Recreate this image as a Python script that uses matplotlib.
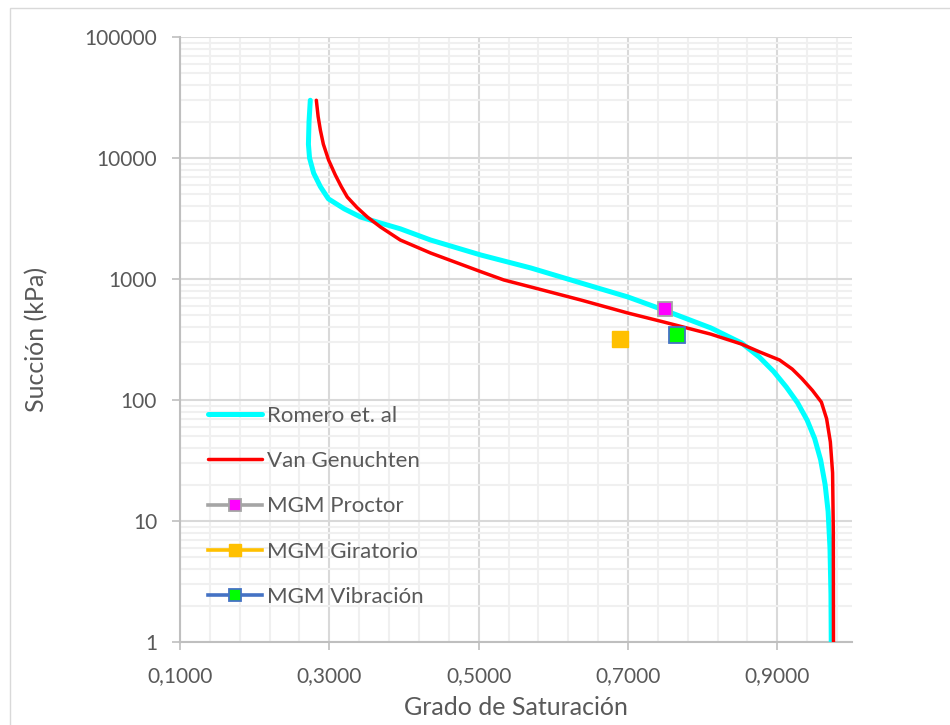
import matplotlib
matplotlib.use("Agg")
import matplotlib.pyplot as plt
from matplotlib.patches import Rectangle
from matplotlib.ticker import FixedLocator, FuncFormatter, LogLocator, NullFormatter

plt.rcParams['font.family'] = ['Lato', 'DejaVu Sans']

# Soil-water retention curves: degree of saturation vs suction (kPa)
romero_s = [0.2745, 0.2728, 0.2720, 0.2735, 0.2790, 0.2880, 0.2987, 0.3200, 0.3420,
            0.3685, 0.3950, 0.4356, 0.5027, 0.5700, 0.6370, 0.7000, 0.7480, 0.8110,
            0.8520, 0.8760, 0.8950, 0.9120, 0.9270, 0.9400, 0.9500, 0.9580, 0.9640,
            0.9680, 0.9705, 0.9718, 0.9722]
romero_psi = [30000, 20000, 13000, 10000, 7500, 5800, 4600, 3800, 3250,
              2900, 2600, 2100, 1580, 1233, 927, 710, 554, 394,
              296, 226, 172, 128, 95, 68, 48, 32, 20,
              12, 6.0, 2.5, 1.0]

vg_s = [0.2826, 0.2850, 0.2880, 0.2920, 0.2990, 0.3080, 0.3160, 0.3240, 0.3370,
        0.3510, 0.3685, 0.3950, 0.4356, 0.5040, 0.5336, 0.5700, 0.6370, 0.7000,
        0.7480, 0.8110, 0.8520, 0.8760, 0.9030, 0.9200, 0.9330, 0.9470, 0.9590,
        0.9660, 0.9710, 0.9740, 0.9750, 0.9752]
vg_psi = [30000, 22000, 17000, 13000, 9620, 7240, 5800, 4760, 3900,
          3250, 2690, 2100, 1640, 1143, 982, 859, 670, 523,
          441, 350, 290, 250, 214, 180, 150, 120, 96,
          70, 45, 25, 8, 1.0]

# Measured points (MGM mixtures)
proctor_s, proctor_psi = [0.750], [565]
giratorio_s, giratorio_psi = [0.689], [319]
vibracion_s, vibracion_psi = [0.766], [344]

x_ticks = [0.1, 0.3, 0.5, 0.7, 0.9]
y_ticks = [1, 10, 100, 1000, 10000, 100000]

TEXT = '#595959'
AXIS = '#bfbfbf'
MAJOR = '#d9d9d9'
MINOR = '#f0f0f0'

fig = plt.figure(figsize=(9.5, 7.25), dpi=100)
W, H = 950, 725
ax = fig.add_axes([180 / W, 1 - 642 / H, 672 / W, 605 / H])

# chart-area frame
fig.patches.append(Rectangle((10 / W, -0.2), 1.2, 1 - 8 / H + 0.2,
                             transform=fig.transFigure, fill=False,
                             edgecolor=MAJOR, linewidth=1.0, zorder=0))

ax.set_yscale('log')
ax.set_xlim(0.1, 1.0)
ax.set_ylim(1, 100000)

ax.xaxis.set_major_locator(FixedLocator(x_ticks))
ax.xaxis.set_minor_locator(FixedLocator([0.1 + 0.04 * i for i in range(23)]))
ax.xaxis.set_major_formatter(FuncFormatter(lambda v, p: f"{v:.4f}".replace('.', ',')))
ax.yaxis.set_major_locator(FixedLocator(y_ticks))
ax.yaxis.set_minor_locator(LogLocator(base=10, subs=range(2, 10), numticks=20))
ax.yaxis.set_major_formatter(FuncFormatter(lambda v, p: f"{int(round(v))}"))
ax.yaxis.set_minor_formatter(NullFormatter())

ax.grid(which='minor', color=MINOR, linewidth=1.5, zorder=0)
ax.grid(which='major', color=MAJOR, linewidth=1.5, zorder=0)
ax.set_axisbelow(True)

for s in ('top', 'right'):
    ax.spines[s].set_visible(False)
for s in ('left', 'bottom'):
    ax.spines[s].set_color(AXIS)
    ax.spines[s].set_linewidth(1.5)

ax.tick_params(which='major', direction='out', length=5.5, width=1.2, color=AXIS,
               labelsize=15, labelcolor=TEXT)
ax.tick_params(axis='y', which='major', pad=11)
ax.tick_params(axis='x', which='major', pad=12)
ax.tick_params(which='minor', length=0)

ax.plot(romero_s, romero_psi, color='#00ffff', linewidth=3.6,
        solid_capstyle='round', solid_joinstyle='round', label='Romero et. al', zorder=3)
ax.plot(vg_s, vg_psi, color='#ff0000', linewidth=2.5,
        solid_capstyle='round', solid_joinstyle='round', label='Van Genuchten', zorder=4)
ax.plot(proctor_s, proctor_psi, color='#a5a5a5', linewidth=2.6, marker='s',
        markersize=10.5, markerfacecolor='#ff00ff', markeredgecolor='#a5a5a5',
        markeredgewidth=1.3, label='MGM Proctor', zorder=5)
ax.plot(giratorio_s, giratorio_psi, color='#ffc000', linewidth=2.6, marker='s',
        markersize=11.5, markerfacecolor='#ffc000', markeredgecolor='#ffc000',
        markeredgewidth=1.0, label='MGM Giratorio', zorder=5)
ax.plot(vibracion_s, vibracion_psi, color='#4472c4', linewidth=2.6, marker='s',
        markersize=11, markerfacecolor='#00ff00', markeredgecolor='#4472c4',
        markeredgewidth=1.3, label='MGM Vibración', zorder=5)

leg = ax.legend(loc='upper left', bbox_to_anchor=(208 / W, 1 - 406 / H),
                bbox_transform=fig.transFigure, frameon=False, fontsize=16,
                labelcolor=TEXT, handlelength=2.43, handletextpad=0.22,
                labelspacing=1.135, borderpad=0, borderaxespad=0, markerscale=0.8)

ax.set_xlabel('Grado de Saturación', fontsize=18, color=TEXT)
ax.xaxis.set_label_coords(0.5, -0.109)
ax.xaxis.label.set_va('center')
ax.set_ylabel('Succión (kPa)', fontsize=18, color=TEXT)
ax.yaxis.set_label_coords(-0.213, 0.5)
ax.yaxis.label.set_va('center')

fig.savefig('out.png', dpi=100)
